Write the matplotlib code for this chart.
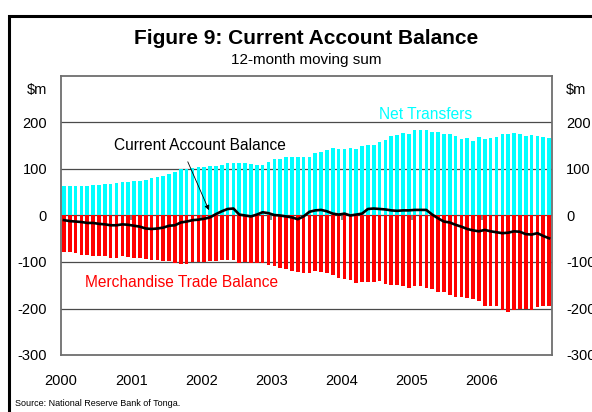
import matplotlib
matplotlib.use("Agg")
import matplotlib.pyplot as plt
from matplotlib.patches import Rectangle
import numpy as np

plt.rcParams['font.family'] = ['Liberation Sans', 'DejaVu Sans']

# 12-month moving sums, $m, monthly Jan 2000 - Dec 2006
net_transfers = [63, 63, 63, 64, 64, 65, 66, 67, 68, 70, 71, 73,
                 74, 75, 77, 80, 82, 85, 90, 94, 99, 101, 103, 104,
                 105, 106, 107, 109, 113, 113, 113, 113, 111, 109, 108, 115,
                 121, 121, 126, 125, 126, 126, 126, 134, 137, 141, 146, 143,
                 143, 146, 143, 149, 151, 151, 158, 162, 171, 173, 178, 176,
                 184, 184, 184, 180, 180, 176, 176, 171, 165, 167, 161, 169,
                 165, 167, 169, 176, 176, 178, 176, 171, 173, 171, 169, 167]

trade_balance = [-78, -79, -81, -84, -86, -87, -88, -88, -91, -91, -88, -89,
                 -91, -91, -94, -95, -96, -98, -98, -102, -105, -104, -101, -100,
                 -100, -98, -98, -96, -96, -95, -103, -101, -102, -102, -102, -107,
                 -109, -112, -116, -119, -121, -123, -123, -120, -122, -124, -129, -134,
                 -136, -139, -145, -142, -142, -142, -140, -147, -149, -150, -152, -156,
                 -152, -152, -156, -159, -164, -165, -170, -175, -175, -177, -179, -184,
                 -195, -195, -195, -204, -207, -204, -202, -202, -204, -196, -195, -195]

current_account = [-10, -12, -13, -14, -16, -16, -18, -19, -21, -21, -19, -20,
                   -22, -24, -28, -29, -28, -26, -22, -21, -15, -13, -10, -9,
                   -7, -4, 3, 9, 14, 15, 2, 0, -2, 2, 7, 5,
                   1, 0, -2, -4, -8, -2, 8, 11, 12, 9, 4, 2,
                   4, 0, 2, 4, 14, 15, 14, 13, 11, 10, 11, 11,
                   12, 12, 12, 2, -6, -13, -15, -20, -24, -29, -32, -34,
                   -31, -34, -36, -38, -37, -34, -35, -40, -41, -38, -44, -49]

years = ['2000', '2001', '2002', '2003', '2004', '2005', '2006']
y_ticks = [-300, -200, -100, 0, 100, 200]

x = np.arange(len(net_transfers))
year_starts = np.arange(len(years)) * 12 - 0.5

fig = plt.figure(figsize=(5.92, 4.12), dpi=100)
ax = fig.add_axes([61/592, 1-355/412, (552-61)/592, (355-76)/412])

# grid lines behind the bars
for yv in y_ticks[1:]:
    ax.axhline(yv, color='#4a4a4a', lw=0.9, zorder=0)

ax.bar(x, net_transfers, width=0.62, color='#00FFFF', zorder=2)
ax.bar(x, trade_balance, width=0.62, color='#FF0000', zorder=2)
ax.vlines(year_starts[1:], -9, 0, color='#707070', lw=1.2, zorder=1)
ax.plot(x, current_account, color='black', lw=1.9, zorder=3)

ax.set_xlim(-0.5, len(x) - 0.5)
ax.set_ylim(-300, 300)

ax.set_yticks(y_ticks + [274])
ax.set_yticklabels([str(v) for v in y_ticks] + ['$m'])
ax.set_xticks(year_starts)
ax.set_xticklabels(years)
ax.tick_params(axis='y', length=0, labelsize=10.5, pad=10, labelright=True)
ax.tick_params(axis='x', length=0, labelsize=10.5, pad=13.5)
for s in ax.spines.values():
    s.set_color('#6e6e6e')
    s.set_linewidth(1.3)

# labels on the chart
ax.text(61.9, 218, 'Net Transfers', color='#00FFFF', fontsize=11.2,
        ha='center', va='center')
ax.text(23.3, 151, 'Current Account Balance', color='black', fontsize=11.2,
        ha='center', va='center')
ax.text(20.2, -144, 'Merchandise Trade Balance', color='#FF0000', fontsize=11.2,
        ha='center', va='center')
ax.annotate('', xy=(25, 6), xytext=(21, 121),
            arrowprops=dict(arrowstyle='-|>', color='black', lw=0.6,
                            mutation_scale=7))

fig.text(306.5/592, 1-38/412, 'Figure 9: Current Account Balance',
         ha='center', va='center', fontsize=15, fontweight='bold')
fig.text(306.5/592, 1-60/412, '12-month moving sum',
         ha='center', va='center', fontsize=11)
fig.text(15/592, 1-403/412, 'Source: National Reserve Bank of Tonga.',
         ha='left', va='center', fontsize=6.5)

# outer frame, runs past the right and bottom edges
fig.add_artist(Rectangle((9/592, -0.1), 1.2, 1.1 - 16/412,
                         transform=fig.transFigure, fill=False,
                         ec='black', lw=2.2, clip_on=False))

fig.savefig('out.png', dpi=100)
